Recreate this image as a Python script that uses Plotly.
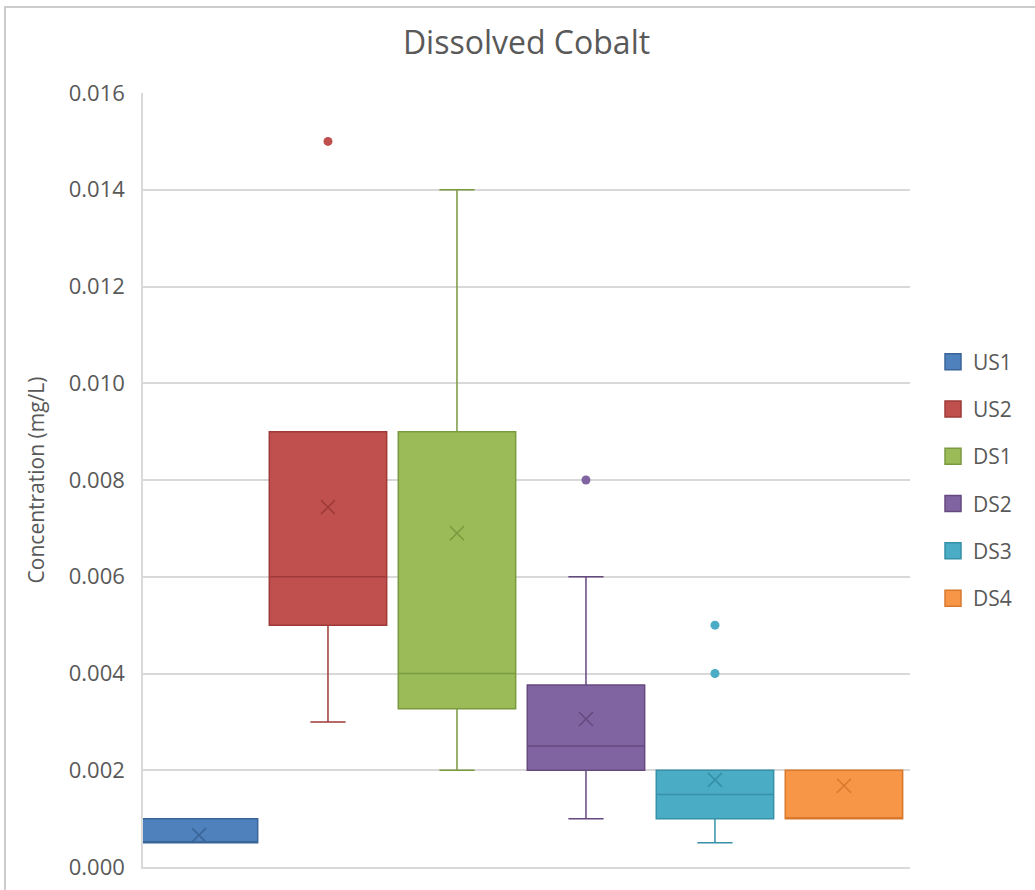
import plotly.graph_objects as go

# ---- data ----
sites = ["US1", "US2", "DS1", "DS2", "DS3", "DS4"]
q1 = [0.0005, 0.005, 0.00327, 0.002, 0.001, 0.001]
median = [0.0005, 0.006, 0.004, 0.0025, 0.0015, 0.001]
q3 = [0.001, 0.009, 0.009, 0.00376, 0.002, 0.002]
lower = [0.0005, 0.003, 0.002, 0.001, 0.0005, 0.001]
upper = [0.001, 0.009, 0.014, 0.006, 0.002, 0.002]
means = [0.00066, 0.00744, 0.0069, 0.00306, 0.0018, 0.00168]
outliers = [[], [0.015], [], [0.008], [0.005, 0.004], []]

colors = ["#4F81BD", "#C0504D", "#9BBB59", "#8064A2", "#4BACC6", "#F79646"]
dark = ["#3A6599", "#9E3B38", "#7A9A3F", "#65497F", "#3590A8", "#D8792E"]

FONT = "Open Sans"
GREY = "#595959"

fig = go.Figure()
for i, s in enumerate(sites):
    fig.add_trace(go.Box(
        name=s, x=[i], q1=[q1[i]], median=[median[i]], q3=[q3[i]],
        lowerfence=[lower[i]], upperfence=[upper[i]],
        fillcolor=colors[i], line=dict(color=dark[i], width=1.5),
        width=0.91, whiskerwidth=0.3, boxpoints=False,
        legendgroup=s, showlegend=False, hoverinfo="skip",
    ))
for i, s in enumerate(sites):
    fig.add_trace(go.Scatter(
        x=[i], y=[means[i]], mode="markers", showlegend=False, legendgroup=s,
        marker=dict(symbol="x-thin", size=14, line=dict(color=dark[i], width=1.6)),
        hoverinfo="skip",
    ))
    if outliers[i]:
        fig.add_trace(go.Scatter(
            x=[i] * len(outliers[i]), y=outliers[i], mode="markers",
            showlegend=False, legendgroup=s,
            marker=dict(symbol="circle", size=9, color=colors[i]),
            hoverinfo="skip",
        ))
# legend entries (square swatches)
for i, s in enumerate(sites):
    fig.add_trace(go.Scatter(
        x=[None], y=[None], mode="markers", name=s, legendgroup=s,
        showlegend=True,
        marker=dict(symbol="square", size=16, color=colors[i],
                    line=dict(color=dark[i], width=1.5)),
    ))

fig.update_layout(
    width=1035, height=890,
    margin=dict(l=143, r=125, t=93, b=23),
    paper_bgcolor="white", plot_bgcolor="white",
    font=dict(family=FONT, color=GREY),
    title=dict(text="Dissolved Cobalt", xref="paper", x=0.5, xanchor="center",
               y=1 - 43 / 890, yanchor="middle",
               font=dict(size=32, color=GREY, family=FONT)),
    showlegend=True,
    legend=dict(x=1.03, xanchor="left", y=0.5, yanchor="middle",
                font=dict(size=21, color=GREY, family=FONT),
                traceorder="grouped", tracegroupgap=17, itemwidth=30,
                bgcolor="rgba(0,0,0,0)"),
    xaxis=dict(range=[-0.434, 5.512], showticklabels=False, showgrid=False,
               zeroline=False, showline=True, linecolor="#D9D9D9", linewidth=1.5,
               ticks="", automargin=False),
    yaxis=dict(range=[0, 0.016], dtick=0.002, tickformat=".3f",
               showgrid=True, gridcolor="#D9D9D9", gridwidth=1.5,
               zeroline=False, showline=True, linecolor="#D9D9D9", linewidth=1.5,
               ticks="", ticklabelstandoff=12, automargin=False,
               tickfont=dict(size=22, color=GREY, family=FONT),
               title=dict(text="Concentration (mg/L)", standoff=18,
                          font=dict(size=21, color=GREY, family=FONT))),
    shapes=[dict(type="rect", xref="paper", yref="paper",
                 x0=(5 - 143) / 767, x1=1.3, y0=-0.2, y1=(867 - 7) / 774,
                 line=dict(color="#CCCCCC", width=2), fillcolor="rgba(0,0,0,0)",
                 layer="below")],
)

fig.write_html("out.html", config={"displayModeBar": False},
               post_script="document.body.style.margin='0';document.body.style.overflow='hidden';")
